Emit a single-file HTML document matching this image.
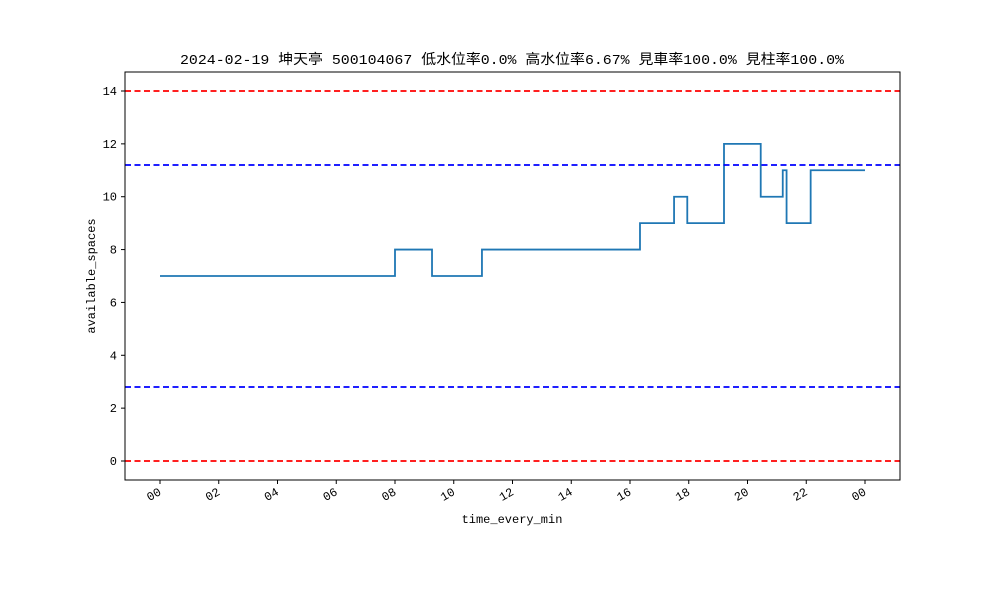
<!DOCTYPE html>
<html><head><meta charset="utf-8"><style>
body{margin:0;background:#fff}
svg text{font-family:"Liberation Mono","Noto Sans CJK SC",monospace;fill:#000}
</style></head><body>
<svg width="1000" height="600" xmlns="http://www.w3.org/2000/svg">
<rect width="1000" height="600" fill="#fff"/>
<text x="512" y="64" font-size="14" text-anchor="middle" textLength="664" lengthAdjust="spacingAndGlyphs">2024-02-19 坤天亭 500104067 低水位率0.0% 高水位率6.67% 見車率100.0% 見柱率100.0%</text>
<path id="series" fill="none" stroke="#1f77b4" stroke-width="1.8"/>
<g id="refs"></g>
<rect x="125" y="72" width="775" height="408" fill="none" stroke="#000" stroke-width="1"/>
<g id="axes"></g>
<text x="512" y="523" font-size="12" text-anchor="middle">time_every_min</text>
<text transform="translate(95,276) rotate(-90)" font-size="12" text-anchor="middle">available_spaces</text>
</svg>
<script>
const stepHours=[0,8.0,9.26,10.96,16.34,17.5,17.95,19.2,20.45,21.2,21.33,22.15,24];
const stepValues=[7,8,7,8,9,10,9,12,10,11,9,11];
const refValues=[14,11.2,2.8,0];
const refColors=['red','blue','blue','red'];
const yTicks=[0,2,4,6,8,10,12,14];
const xTickLabels=['00','02','04','06','08','10','12','14','16','18','20','22','00'];
const NS='http://www.w3.org/2000/svg';
const X=h=>160+h*(705/24);
const Y=v=>461-v*(370/14);
let d='';
for(let i=0;i<stepValues.length;i++){
 d+=(i==0?'M':'L')+X(stepHours[i])+','+Y(stepValues[i])+' L'+X(stepHours[i+1])+','+Y(stepValues[i]);
}
document.getElementById('series').setAttribute('d',d);
const refs=document.getElementById('refs');
refValues.forEach((v,i)=>{
 const l=document.createElementNS(NS,'line');
 
 
 l.setAttribute('x1',125);l.setAttribute('x2',900);
 l.setAttribute('y1',Y(v));l.setAttribute('y2',Y(v));
 l.setAttribute('stroke',refColors[i]);l.setAttribute('stroke-width',1.8);
 l.setAttribute('stroke-dasharray','6,3.5');
 refs.appendChild(l);
});
const ax=document.getElementById('axes');
yTicks.forEach(v=>{
 const t=document.createElementNS(NS,'line');
 
 
 t.setAttribute('x1',121);t.setAttribute('x2',125);t.setAttribute('y1',Y(v));t.setAttribute('y2',Y(v));t.setAttribute('stroke','#000');
 ax.appendChild(t);
 const s=document.createElementNS(NS,'text');
 
 
 s.setAttribute('x',117);s.setAttribute('y',Y(v)+4);s.setAttribute('font-size',12);s.setAttribute('text-anchor','end');
 s.textContent=v;ax.appendChild(s);
});
xTickLabels.forEach((lab,i)=>{
 const x=X(i*2);
 const t=document.createElementNS(NS,'line');
 
 
 t.setAttribute('x1',x);t.setAttribute('x2',x);t.setAttribute('y1',480);t.setAttribute('y2',484);t.setAttribute('stroke','#000');
 ax.appendChild(t);
 const s=document.createElementNS(NS,'text');
 
 
 s.setAttribute('transform','translate('+(x+2)+',494) rotate(-30)');
 s.setAttribute('font-size',12);s.setAttribute('text-anchor','end');
 s.textContent=lab;ax.appendChild(s);
});
</script>
</body></html>
